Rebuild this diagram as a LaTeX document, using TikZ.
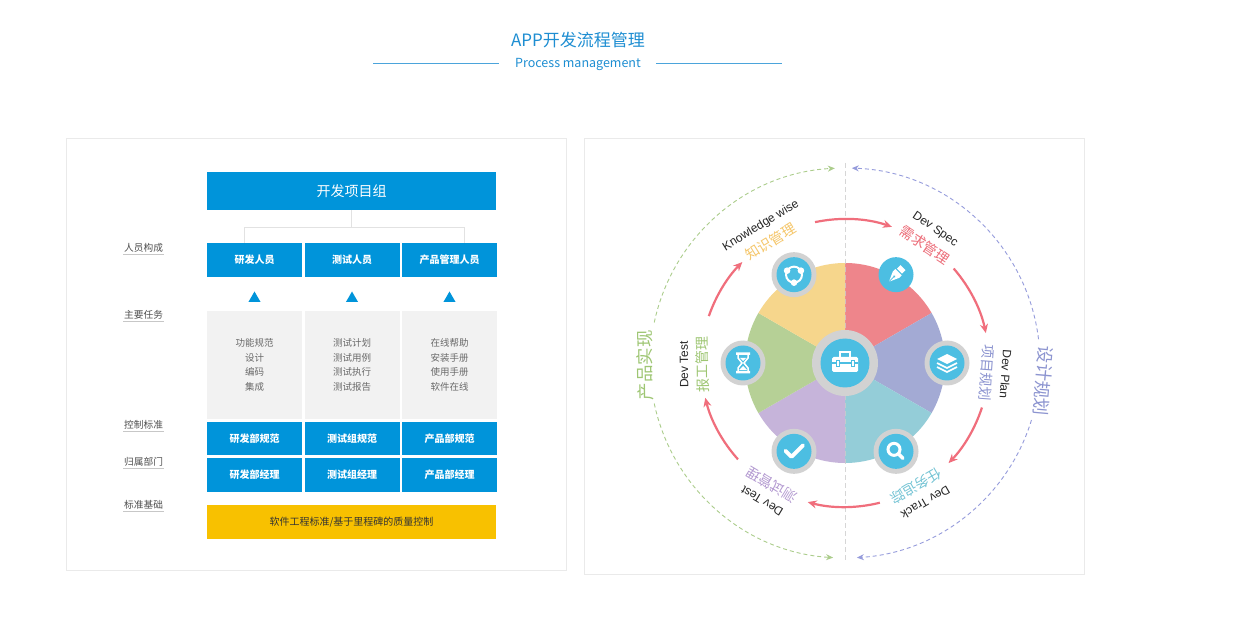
\documentclass[tikz,border=0pt]{standalone}
\usepackage{fontspec}
\setmainfont{Noto Sans CJK SC}
\newfontfamily\arialfont{Liberation Sans}
\usetikzlibrary{arrows.meta, positioning, calc, shapes.geometric}

\definecolor{titleblue}{RGB}{30,142,210}
\definecolor{boxblue}{RGB}{0,148,218}
\definecolor{taskgray}{RGB}{242,242,242}
\definecolor{tasktext}{RGB}{105,105,105}
\definecolor{labeltext}{RGB}{80,80,80}
\definecolor{basegold}{RGB}{248,193,0}
\definecolor{panelline}{RGB}{234,234,234}
\definecolor{treegray}{RGB}{226,226,226}
\definecolor{pieRed}{RGB}{238,133,139}
\definecolor{pieBlue}{RGB}{163,170,212}
\definecolor{pieTeal}{RGB}{148,205,216}
\definecolor{pieLilac}{RGB}{198,180,218}
\definecolor{pieGreen}{RGB}{182,208,150}
\definecolor{pieYellow}{RGB}{246,214,140}
\definecolor{iconblue}{RGB}{76,190,226}
\definecolor{ringgray}{RGB}{210,210,210}
\definecolor{flowred}{RGB}{240,110,124}
\definecolor{dashgreen}{RGB}{172,205,140}
\definecolor{dashblue}{RGB}{150,156,220}
\definecolor{cnYellow}{RGB}{245,198,105}
\definecolor{cnRed}{RGB}{236,108,120}
\definecolor{cnPurple}{RGB}{140,148,208}
\definecolor{cnTeal}{RGB}{115,195,212}
\definecolor{cnLilac}{RGB}{178,152,208}
\definecolor{cnGreen}{RGB}{158,198,115}

\begin{document}
\begin{tikzpicture}[x=1pt, y=1pt,
  bluebox/.style={fill=boxblue, text=white, minimum width=95, minimum height=34, inner sep=0, font=\bfseries\fontsize{10}{12}\selectfont},
  taskbox/.style={fill=taskgray, text=tasktext, minimum width=95, minimum height=108, inner sep=0, align=center, font=\fontsize{9.5}{14.5}\selectfont},
  rowlabel/.style={anchor=west, inner sep=1, text=labeltext, font=\fontsize{9.7}{12}\selectfont},
  upmark/.style={regular polygon, regular polygon sides=3, fill=boxblue, minimum size=14, inner sep=0},
  panel/.style={draw=panelline, line width=.8},
  treeline/.style={draw=treegray, line width=.8},
  flowarrow/.style={draw=flowred, line width=2.2, -{Stealth[length=9pt, width=8pt]}},
  greendash/.style={draw=dashgreen, line width=.9, dash pattern=on 4pt off 3pt, -{Stealth[length=7pt, width=6pt]}},
  bluedash/.style={draw=dashblue, line width=.9, dash pattern=on 4pt off 3pt, -{Stealth[length=7pt, width=6pt]}},
  ring/.style={circle, fill=ringgray, inner sep=0, minimum size=45},
  disc/.style={circle, fill=iconblue, inner sep=0, minimum size=35},
  enlabel/.style={font=\arialfont\fontsize{12}{12}\selectfont, text=black!85, inner sep=0},
  cnlabel/.style={font=\fontsize{14}{14}\selectfont, inner sep=0},
]
\fill[white] (0,0) rectangle (1248,630);

% heading
\node[text=titleblue, inner sep=0, font=\fontsize{17}{17}\selectfont] (title) at (578,589.5) {APP开发流程管理};
\node[text=titleblue, inner sep=0, font=\fontsize{12.5}{12.5}\selectfont] (subtitle) at (578,566) {Process management};
\draw[titleblue!80, line width=.8] (373,567) -- (499,567) (656,567) -- (782,567);

\draw[panel] (66,60) rectangle (566,492);
\draw[panel] (584,56) rectangle (1084,492);

% left chart
\node[fill=boxblue, text=white, minimum width=289, minimum height=38, inner sep=0, font=\fontsize{14}{14}\selectfont] (team) at (351.5,439) {开发项目组};

\node[bluebox] (staff1) at (254.5,370) {研发人员};
\node[bluebox] (staff2) at (352,370) {测试人员};
\node[bluebox] (staff3) at (449.5,370) {产品管理人员};

\draw[treeline] (team.south) -- ++(0,-18);
\draw[treeline] ([xshift=-10.5]staff1.north) -- ++(0,15) -| ([xshift=14.5]staff3.north);

\node[upmark] (up1) at (254.5,331.5) {};
\node[upmark] (up2) at (352,331.5) {};
\node[upmark] (up3) at (449.5,331.5) {};

\node[taskbox] (task1) at (254.5,265) {功能规范\\设计\\编码\\集成};
\node[taskbox] (task2) at (352,265) {测试计划\\测试用例\\测试执行\\测试报告};
\node[taskbox] (task3) at (449.5,265) {在线帮助\\安装手册\\使用手册\\软件在线};

\node[bluebox, minimum height=33] (rule1) at (254.5,191.5) {研发部规范};
\node[bluebox, minimum height=33] (rule2) at (352,191.5) {测试组规范};
\node[bluebox, minimum height=33] (rule3) at (449.5,191.5) {产品部规范};

\node[bluebox] (head1) at (254.5,155) {研发部经理};
\node[bluebox] (head2) at (352,155) {测试组经理};
\node[bluebox] (head3) at (449.5,155) {产品部经理};

\node[fill=basegold, text=black!80, minimum width=289, minimum height=34, inner sep=0, font=\fontsize{10}{12}\selectfont] (base) at (351.5,108) {软件工程标准/基于里程碑的质量控制};

\foreach \y/\txt [count=\i] in {382/人员构成, 315/主要任务, 205/控制标准, 168/归属部门, 125/标准基础} {
  \node[rowlabel] (lab\i) at (123,\y) {\txt};
  \draw[black!22, line width=.7] ([yshift=-1]lab\i.south west) -- ([yshift=-1]lab\i.south east);
}

% right wheel
\begin{scope}[shift={(845,267)}]
  \foreach \a/\c in {30/pieRed, -30/pieBlue, -90/pieTeal, -150/pieLilac, 150/pieGreen, 90/pieYellow}
    \fill[\c] (0,0) -- (\a:100) arc[start angle=\a, delta angle=60, radius=100] -- cycle;

  \draw[gray!40, opacity=.8, line width=.8, dash pattern=on 5pt off 3pt] (0,200) -- (0,-198);

  \node[ring, minimum size=66] (hubring) at (0,0) {};
  \node[disc, minimum size=49] (hub) at (0,0) {};
  \foreach \a/\n in {120/share, 0/layers, -60/search, -120/check, 180/timer}
    \node[ring] (ring\n) at (\a:102) {};
  \foreach \a/\n in {120/share, 60/pen, 0/layers, -60/search, -120/check, 180/timer}
    \node[disc] (\n) at (\a:102) {};

  % briefcase
  \fill[white, rounded corners=1.5] (-13,-9) rectangle (13,6);
  \draw[white, line width=2] (-5,6) -- (-5,10.5) -- (5,10.5) -- (5,6);
  \draw[iconblue, line width=1.2] (-13,0) -- (13,0);
  \filldraw[fill=white, draw=iconblue, line width=.8] (-9,-3) rectangle (-6,3) (6,-3) rectangle (9,3);

  \begin{scope}[shift={(120:102)}]
    \draw[white, line width=2] (0,0) circle (8);
    \fill[white] (150:8) circle (3.3) (30:8) circle (3.3) (-90:8) circle (3.3);
  \end{scope}
  \begin{scope}[shift={(60:102)}, rotate=-45]
    \fill[white] (-3.5,5) rectangle (3.5,10);
    \fill[white] (-4.5,3.5) -- (4.5,3.5) -- (4.5,0) -- (0,-10) -- (-4.5,0) -- cycle;
    \draw[iconblue, line width=.8] (0,-10) -- (0,-3);
    \fill[iconblue] (0,-2.5) circle (1.3);
  \end{scope}
  \begin{scope}[shift={(0:102)}]
    \fill[white] (-10,4) -- (0,9) -- (10,4) -- (0,-1) -- cycle;
    \draw[white, line width=1.6] (-10,0) -- (0,-5) -- (10,0) (-10,-4) -- (0,-9) -- (10,-4);
  \end{scope}
  \begin{scope}[shift={(-60:102)}]
    \draw[white, line width=3] (-2,2) circle (6);
    \draw[white, line width=3.5, line cap=round] (2.5,-2.5) -- (7,-7);
  \end{scope}
  \begin{scope}[shift={(-120:102)}]
    \draw[white, line width=3.8, line cap=round, line join=round] (-8.5,0.5) -- (-2.5,-5.5) -- (9,6);
  \end{scope}
  \begin{scope}[shift={(180:102)}]
    \fill[white] (-7,8) rectangle (7,10.5) (-7,-10.5) rectangle (7,-8);
    \draw[white, line width=1.5] (-5,8) -- (-5,5) -- (-1,0) -- (-5,-5) -- (-5,-8) (5,8) -- (5,5) -- (1,0) -- (5,-5) -- (5,-8);
    \fill[white] (-3,5) -- (3,5) -- (0,2) -- cycle (-4,-7) -- (0,-3) -- (4,-7) -- cycle;
  \end{scope}

  \foreach \ang/\en/\cn/\col [count=\i] in {121.5/Knowledge wise/知识管理/cnYellow, 56/Dev Spec/需求管理/cnRed, -4/Dev Plan/项目规划/cnPurple, -60/Dev Track/任务追踪/cnTeal, -121/Dev Test/测试管理/cnLilac, 180.5/Dev Test/报工管理/cnGreen} {
    \node[enlabel, rotate=\ang-90] (en\i) at (\ang:161) {\en};
    \node[cnlabel, text=\col, rotate=\ang-90] (cn\i) at (\ang:142.5) {\cn};
  }

  \foreach \s/\e in {102/71, 41/12, -18/-44, -76/-105, -138/-166, 161/135.5}
    \draw[flowarrow] (\s:144) arc[start angle=\s, end angle=\e, radius=144];

  \draw[greendash] (168:195) arc[start angle=168, end angle=93, radius=195];
  \draw[greendash] (-168:195) arc[start angle=-168, end angle=-93.5, radius=195];
  \draw[bluedash] (7:195) arc[start angle=7, end angle=88, radius=195];
  \draw[bluedash] (-17:195) arc[start angle=-17, end angle=-86.5, radius=195];

  \node[text=cnGreen, inner sep=0, rotate=90.6, font=\fontsize{17.5}{17.5}\selectfont] (realize) at (180.6:200) {产品实现};
  \node[text=cnPurple, inner sep=0, rotate=-95, font=\fontsize{17.5}{17.5}\selectfont] (design) at (-5.2:199) {设计规划};
\end{scope}
\end{tikzpicture}
\end{document}
